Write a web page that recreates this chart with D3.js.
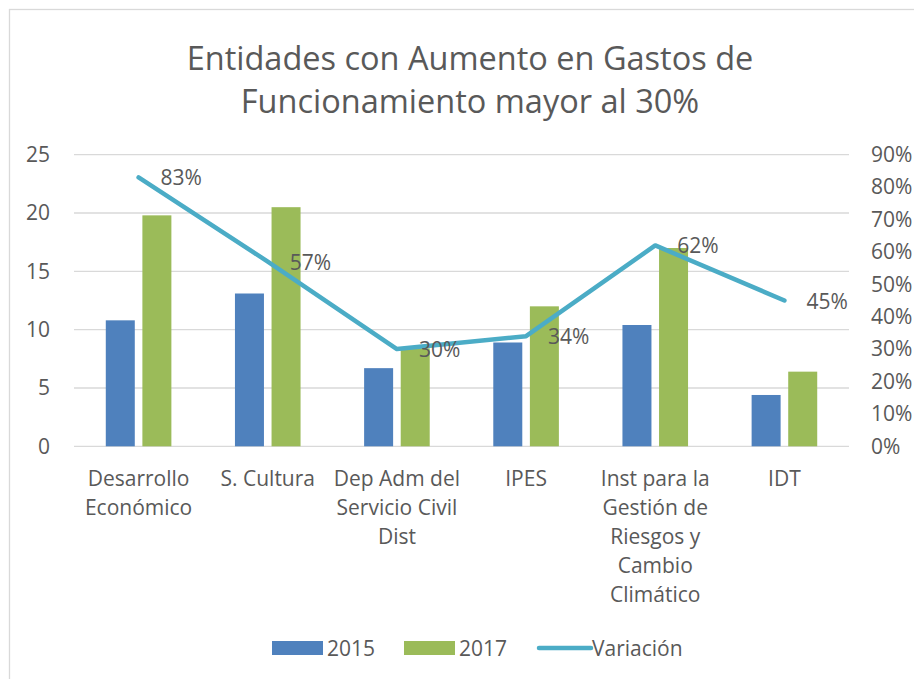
<!DOCTYPE html>
<html><head><meta charset="utf-8">
<script src="https://cdn.jsdelivr.net/npm/d3@7"></script>
<style>body{margin:0;background:#fff}svg{display:block}text{font-family:"Open Sans",sans-serif;fill:#595959}</style>
</head><body>
<svg id="c" width="914" height="679"></svg>
<script>
const title = ["Entidades con Aumento en Gastos de", "Funcionamiento mayor al 30%"];
const categories = ["Desarrollo Económico", "S. Cultura", "Dep Adm del Servicio Civil Dist", "IPES", "Inst para la Gestión de Riesgos y Cambio Climático", "IDT"];
const values2015 = [10.8, 13.1, 6.7, 8.9, 10.4, 4.4];
const values2017 = [19.8, 20.5, 8.4, 12.0, 17.0, 6.4];
const variacion = [0.83, 0.57, 0.30, 0.34, 0.62, 0.45];
const leftTicks = [0, 5, 10, 15, 20, 25];
const rightTicks = [0, 0.1, 0.2, 0.3, 0.4, 0.5, 0.6, 0.7, 0.8, 0.9];
const seriesNames = ["2015", "2017", "Variación"];
const colors = ["#4F81BD", "#9BBB59", "#4BACC6"];

const svg = d3.select("#c");
const m = {l: 74, r: 849, t: 154.7, b: 446.3};
const fs = "21px";

svg.append("rect").attr("x", 9.5).attr("y", 9.5).attr("width", 930).attr("height", 700)
  .attr("fill", "#fff").attr("stroke", "#d9d9d9").attr("stroke-width", 1.3);

svg.append("g").selectAll("text").data(title).join("text")
  .attr("x", 470).attr("y", (d, i) => 57 + i * 43)
  .attr("text-anchor", "middle").attr("dominant-baseline", "central")
  .style("font-size", "32.5px").text(d => d);

const x = d3.scaleBand().domain(categories).range([m.l, m.r]);
const y = d3.scaleLinear().domain([0, 25]).range([m.b, m.t]);
const y2 = d3.scaleLinear().domain([0, 0.9]).range([m.b, m.t]);
const barW = 29, gap = 7.6;

// gridlines
svg.append("g").selectAll("line").data(leftTicks).join("line")
  .attr("x1", m.l).attr("x2", m.r).attr("y1", d => y(d)).attr("y2", d => y(d))
  .attr("stroke", "#d9d9d9").attr("stroke-width", 1.3);

// left axis
const la = svg.append("g").attr("transform", `translate(${m.l - 24},0)`)
  .call(d3.axisLeft(y).tickValues(leftTicks).tickSize(0).tickPadding(0));
la.select(".domain").remove();
la.selectAll("text").style("font-size", fs).attr("fill", "#595959").style("font-family", '"Open Sans",sans-serif');

// right axis
const ra = svg.append("g").attr("transform", `translate(${m.r + 22},0)`)
  .call(d3.axisRight(y2).tickValues(rightTicks).tickFormat(d3.format(".0%")).tickSize(0).tickPadding(0));
ra.select(".domain").remove();
ra.selectAll("text").style("font-size", fs).attr("fill", "#595959").style("font-family", '"Open Sans",sans-serif');

// bars
const cx = d => x(d) + x.bandwidth() / 2;
svg.append("g").selectAll("rect").data(categories).join("rect")
  .attr("x", d => cx(d) - gap / 2 - barW).attr("width", barW)
  .attr("y", (d, i) => y(values2015[i])).attr("height", (d, i) => y(0) - y(values2015[i]))
  .attr("fill", colors[0]);
svg.append("g").selectAll("rect").data(categories).join("rect")
  .attr("x", d => cx(d) + gap / 2).attr("width", barW)
  .attr("y", (d, i) => y(values2017[i])).attr("height", (d, i) => y(0) - y(values2017[i]))
  .attr("fill", colors[1]);

// line
const line = d3.line().x((d, i) => cx(categories[i])).y(d => y2(d));
svg.append("path").datum(variacion).attr("d", line).attr("fill", "none")
  .attr("stroke", colors[2]).attr("stroke-width", 4.5)
  .attr("stroke-linecap", "round").attr("stroke-linejoin", "round");

svg.append("g").selectAll("text").data(variacion).join("text")
  .attr("x", (d, i) => cx(categories[i]) + 22).attr("y", d => y2(d))
  .attr("dominant-baseline", "central").style("font-size", fs)
  .text(d => d3.format(".0%")(d));

// category labels with wrapping
const lab = svg.append("g").style("font-size", fs);
categories.forEach(c => {
  const words = c.split(" ");
  const lines = [];
  let cur = "";
  const t = lab.append("text").attr("x", cx(c)).attr("text-anchor", "middle");
  words.forEach(w => {
    const test = cur ? cur + " " + w : w;
    t.text(test);
    if (t.node().getComputedTextLength() > 130 && cur) { lines.push(cur); cur = w; }
    else cur = test;
  });
  lines.push(cur);
  t.text(null);
  lines.forEach((l, i) => t.append("tspan").attr("x", cx(c)).attr("y", 478 + i * 29)
    .attr("dominant-baseline", "central").text(l));
});

// legend
const lg = svg.append("g");
const items = [{x: 272, type: "rect"}, {x: 404, type: "rect"}, {x: 537, type: "line"}];
items.forEach((it, i) => {
  if (it.type === "rect") lg.append("rect").attr("x", it.x).attr("y", 641).attr("width", 51).attr("height", 14).attr("fill", colors[i]);
  else lg.append("line").attr("x1", it.x + 2).attr("x2", it.x + 54).attr("y1", 648).attr("y2", 648)
    .attr("stroke", colors[i]).attr("stroke-width", 4.5).attr("stroke-linecap", "round");
  lg.append("text").attr("x", it.x + 55).attr("y", 648).attr("dominant-baseline", "central")
    .style("font-size", fs).text(seriesNames[i]);
});
</script>
</body></html>
